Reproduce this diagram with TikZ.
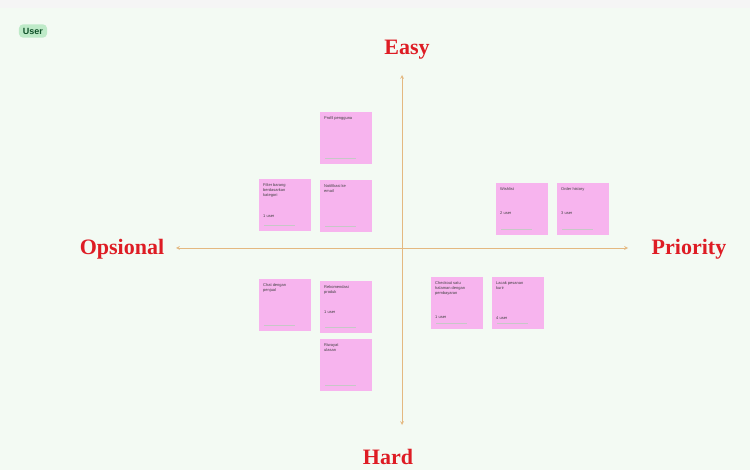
\documentclass[tikz,border=0pt]{standalone}
\usepackage{fontspec}
\setmainfont{Liberation Serif}
\setsansfont{Liberation Sans}
\usetikzlibrary{positioning}
\definecolor{boardbg}{RGB}{243,250,243}
\definecolor{notepink}{RGB}{247,180,238}
\definecolor{axisorange}{RGB}{228,184,128}
\definecolor{labelred}{RGB}{222,28,36}
\definecolor{tagbg}{RGB}{190,234,200}
\definecolor{tagtext}{RGB}{15,80,40}

\newcommand{\notetext}[1]{\parbox[c][44pt][t]{44pt}{\raggedright #1}}

\tikzset{
    axislabel/.style={font=\bfseries\fontsize{22}{24}\selectfont, text=labelred},
    sticky/.style={fill=notepink, minimum width=52pt, minimum height=52pt,
        inner sep=4pt, anchor=north west,
        font=\sffamily\fontsize{4}{5.2}\selectfont, text=black!75}
}

\begin{document}
\begin{tikzpicture}[x=1pt, y=-1pt]
\useasboundingbox (0,0) rectangle (750,470);
\fill[boardbg] (0,0) rectangle (750,470);
\fill[black!4] (0,0) rectangle (750,8);

% user tag
\node[fill=tagbg, rounded corners=4pt, inner xsep=4pt, inner ysep=3.5pt,
    font=\sffamily\bfseries\fontsize{9}{10}\selectfont, text=tagtext] (usertag) at (33,31) {User};

% axes
\node[axislabel] (easy) at (407,50) {Easy};
\node[axislabel] (hard) at (388,457) {Hard};
\node[axislabel] (opsional) at (122,249) {Opsional};
\node[axislabel] (priority) at (689,249) {Priority};
\coordinate (top) at (402,75);
\coordinate (bottom) at (402,425);
\coordinate (left) at (176,248);
\coordinate (right) at (628,248);
\draw[axisorange, line width=0.7pt, <->, >=stealth] (left) -- (right);
\draw[axisorange, line width=0.7pt, <->, >=stealth] (top) -- (bottom);

% sticky notes
\node[sticky] (n1) at (320,112) {\notetext{Profil pengguna}};
\node[sticky] (n2) at (259,179) {\notetext{Filter barang\\berdasarkan\\kategori\\[16pt]1 user}};
\node[sticky] (n3) at (320,180) {\notetext{Notifikasi ke\\email}};
\node[sticky] (n4) at (496,183) {\notetext{Wishlist\\[19pt]2 user}};
\node[sticky] (n5) at (557,183) {\notetext{Order history\\[19pt]3 user}};
\node[sticky] (n6) at (259,279) {\notetext{Chat dengan\\penjual}};
\node[sticky] (n7) at (320,281) {\notetext{Rekomendasi\\produk\\[15pt]1 user}};
\node[sticky] (n8) at (320,339) {\notetext{Riwayat\\ulasan}};
\node[sticky] (n9) at (431,277) {\notetext{Checkout satu\\halaman dengan\\pembayaran\\[19pt]1 user}};
\node[sticky] (n10) at (492,277) {\notetext{Lacak pesanan\\kurir\\[25pt]4 user}};

% faint author line in each note
\foreach \n in {n1,n2,n3,n4,n5,n6,n7,n8,n9,n10} {
    \draw[black!22, line width=0.6pt] ([xshift=5pt, yshift=6pt]\n.south west) -- ([xshift=-16pt, yshift=6pt]\n.south east);
}
\end{tikzpicture}
\end{document}
